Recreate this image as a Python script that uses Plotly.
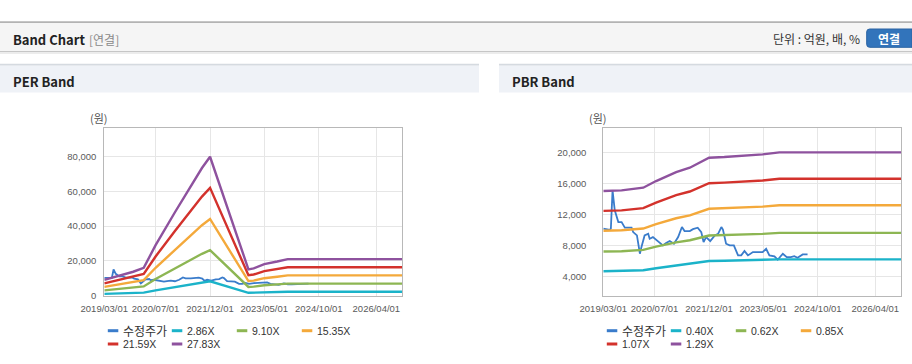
import plotly.graph_objects as go

# ---------------- data ----------------
x_tick_vals = ["2019-03-01", "2020-07-01", "2021-12-01", "2023-05-01", "2024-10-01", "2026-04-01"]
x_tick_text = ["2019/03/01", "2020/07/01", "2021/12/01", "2023/05/01", "2024/10/01", "2026/04/01"]
x_range = ["2019-03-01", "2026-12-01"]

per_y_ticks = [0, 20000, 40000, 60000, 80000]
pbr_y_ticks = [4000, 8000, 12000, 16000, 20000]

price_name = "수정주가"
price_dates = ["2019-03-01", "2019-04-15", "2019-05-01", "2019-05-12", "2019-05-28", "2019-06-18",
               "2019-07-22", "2019-08-22", "2019-09-22", "2019-11-25", "2019-12-10", "2020-01-15",
               "2020-02-12", "2020-02-27", "2020-03-28", "2020-05-01", "2020-05-15", "2020-06-15",
               "2020-08-01", "2020-09-18", "2020-10-18", "2020-11-22", "2021-01-01", "2021-02-10",
               "2021-03-18", "2021-04-12", "2021-06-01", "2021-07-01", "2021-08-15", "2021-09-18",
               "2021-10-10", "2021-11-03", "2021-12-12", "2022-01-25", "2022-02-25", "2022-03-28",
               "2022-04-12", "2022-05-12", "2022-06-15", "2022-07-25", "2022-09-03", "2022-10-03",
               "2022-11-03", "2022-12-06", "2023-01-22", "2023-04-25", "2023-05-28", "2023-06-28",
               "2023-08-15", "2023-09-15", "2023-11-03", "2023-12-10", "2024-01-18", "2024-02-20",
               "2024-03-22", "2024-05-10", "2024-06-25"]
price_values = [10150, 10100, 10000, 10150, 15100, 12520,
                11010, 11000, 10280, 10280, 9720, 9290,
                6930, 7790, 9290, 9500, 8860, 9070,
                8560, 8000, 8300, 8560, 8220, 9070,
                10370, 9850, 9850, 10100, 10280, 9720,
                8430, 9070, 8560, 9290, 9500, 10370,
                10030, 8220, 8000, 8000, 6710, 6710,
                7270, 6710, 7140, 7140, 7570, 6710,
                6580, 6150, 6930, 6490, 6490, 6620,
                6400, 6840, 6840]

per_dates = ["2019-03-01", "2019-08-01", "2019-12-01", "2020-03-10", "2020-07-01", "2021-01-01",
             "2021-09-15", "2021-12-01", "2022-12-01", "2023-01-20", "2023-05-01", "2023-09-01",
             "2023-12-10", "2026-12-01"]
per_band_names = ["2.86X", "9.10X", "15.35X", "21.59X", "27.83X"]
per_2_86 = [920, 1210, 1410, 1640, 2980, 4930, 7550, 8220, 1550, 1600, 1860, 2010, 2160, 2160]
per_9_10 = [2940, 3860, 4480, 5230, 9480, 15700, 24030, 26160, 4940, 5100, 5920, 6410, 6870, 6870]
per_15_35 = [4960, 6510, 7560, 8830, 16000, 26480, 40540, 44130, 8330, 8600, 9980, 10810, 11580, 11580]
per_21_59 = [6980, 9150, 10630, 12410, 22500, 37240, 57020, 62060, 11710, 12100, 14040, 15210, 16290, 16290]
per_27_83 = [9000, 11800, 13700, 16000, 29000, 48000, 73500, 80000, 15100, 15600, 18100, 19600, 21000, 21000]

pbr_dates = ["2019-03-01", "2019-08-22", "2020-03-15", "2020-07-15", "2021-01-22", "2021-06-01",
             "2021-12-01", "2022-04-25", "2023-04-25", "2023-10-01", "2026-12-01"]
pbr_band_names = ["0.40X", "0.62X", "0.85X", "1.07X", "1.29X"]
pbr_0_40 = [4660, 4680, 4790, 5060, 5410, 5590, 5990, 6020, 6120, 6200, 6200]
pbr_0_62 = [7220, 7250, 7420, 7840, 8390, 8660, 9280, 9320, 9490, 9610, 9610]
pbr_0_85 = [9890, 9950, 10170, 10740, 11500, 11870, 12720, 12780, 13000, 13180, 13180]
pbr_1_07 = [12450, 12520, 12810, 13520, 14480, 14950, 16020, 16090, 16370, 16590, 16590]
pbr_1_29 = [15010, 15100, 15440, 16300, 17460, 18020, 19310, 19400, 19740, 20000, 20000]

price_color = "#3A7CCB"
band_colors = ["#1BB3C9", "#8DB653", "#F4A93B", "#D3322C", "#8E529E"]

# ---------------- figure ----------------
W, H = 912, 364


def PX(x):
    return x / W


def PY(y):
    return 1 - y / H


fig = go.Figure()

fig.add_trace(go.Scatter(x=price_dates, y=price_values, name=price_name, mode="lines",
                         line=dict(color=price_color, width=1.8), xaxis="x", yaxis="y"))
for nm, vals, col in zip(per_band_names, [per_2_86, per_9_10, per_15_35, per_21_59, per_27_83], band_colors):
    fig.add_trace(go.Scatter(x=per_dates, y=vals, name=nm, mode="lines",
                             line=dict(color=col, width=2.4), xaxis="x", yaxis="y"))

fig.add_trace(go.Scatter(x=price_dates, y=price_values, name=price_name, mode="lines",
                         line=dict(color=price_color, width=1.8), xaxis="x2", yaxis="y2"))
for nm, vals, col in zip(pbr_band_names, [pbr_0_40, pbr_0_62, pbr_0_85, pbr_1_07, pbr_1_29], band_colors):
    fig.add_trace(go.Scatter(x=pbr_dates, y=vals, name=nm, mode="lines",
                             line=dict(color=col, width=2.4), xaxis="x2", yaxis="y2"))

tick_font = dict(family="Liberation Sans, Arial, sans-serif", size=9.5, color="#5a5a5a")
axis_common = dict(showgrid=True, gridcolor="#e6e6e6", gridwidth=1, showline=True,
                   linecolor="#b8b8b8", linewidth=1, mirror=True, ticks="",
                   zeroline=False, fixedrange=True, tickfont=tick_font, automargin=False)

per_left, per_right = 104.3, 402.0
pbr_left, pbr_right = 603.3, 901.0
plot_top, plot_bottom = 128.3, 295.5

fig.update_layout(
    width=W, height=H, autosize=False,
    margin=dict(l=0, r=0, t=0, b=0, pad=0, autoexpand=False),
    paper_bgcolor="#ffffff", plot_bgcolor="#ffffff", showlegend=False,
    xaxis=dict(domain=[PX(per_left), PX(per_right)], type="date", range=x_range,
               tickvals=x_tick_vals, ticktext=x_tick_text, anchor="y", tickangle=0,
               ticklabelstandoff=4, **axis_common),
    yaxis=dict(domain=[PY(plot_bottom), PY(plot_top)], range=[0, 96400],
               tickvals=per_y_ticks, tickformat=",d", anchor="x",
               ticklabelstandoff=5, **axis_common),
    xaxis2=dict(domain=[PX(pbr_left), PX(pbr_right)], type="date", range=x_range,
                tickvals=x_tick_vals, ticktext=x_tick_text, anchor="y2", tickangle=0,
                ticklabelstandoff=4, **axis_common),
    yaxis2=dict(domain=[PY(plot_bottom), PY(plot_top)], range=[1540, 23100],
                tickvals=pbr_y_ticks, tickformat=",d", anchor="x2",
                ticklabelstandoff=14, **axis_common),
)

shapes = []
annotations = []
kr = "Noto Sans CJK KR, sans-serif"

# top line and header bar
shapes.append(dict(type="rect", xref="paper", yref="paper", x0=0, x1=1, y0=PY(23), y1=PY(21.3),
                   fillcolor="#b3b3b3", line=dict(width=0)))
shapes.append(dict(type="rect", xref="paper", yref="paper", x0=0, x1=1, y0=PY(51), y1=PY(23),
                   fillcolor="#f5f5f5", line=dict(width=0)))
shapes.append(dict(type="rect", xref="paper", yref="paper", x0=0, x1=1, y0=PY(52), y1=PY(51),
                   fillcolor="#c6c6c6", line=dict(width=0)))
shapes.append(dict(type="rect", xref="paper", yref="paper", x0=0, x1=1, y0=PY(54), y1=PY(52),
                   fillcolor="#ececec", line=dict(width=0)))

# panel headers
for x0, x1 in [(0, 479), (499, 912)]:
    shapes.append(dict(type="rect", xref="paper", yref="paper", x0=PX(x0), x1=PX(x1),
                       y0=PY(92.5), y1=PY(65.5), fillcolor="#eff2f7", line=dict(width=0)))
    shapes.append(dict(type="rect", xref="paper", yref="paper", x0=PX(x0), x1=PX(x1),
                       y0=PY(65.5), y1=PY(63.8), fillcolor="#d5dae0", line=dict(width=0)))

# blue button (rounded corners)
bx0, bx1, by0, by1, r = 866.7, 912, 29, 47.3, 3


def P(x, y):
    return f"{PX(x)},{PY(y)}"


btn_path = ("M " + P(bx0 + r, by0) + " L " + P(bx1, by0) +
            " L " + P(bx1, by1) +
            " L " + P(bx0 + r, by1) + " Q " + P(bx0, by1) + " " + P(bx0, by1 - r) +
            " L " + P(bx0, by0 + r) + " Q " + P(bx0, by0) + " " + P(bx0 + r, by0) + " Z")
shapes.append(dict(type="path", xref="paper", yref="paper", path=btn_path,
                   fillcolor="#3274bb", line=dict(color="#2a63a3", width=1)))


def text(x, y, s, size, color, bold=False, family=kr, xanchor="left"):
    annotations.append(dict(xref="paper", yref="paper", x=PX(x), y=PY(y),
                            text=("<b>%s</b>" % s) if bold else s,
                            showarrow=False, xanchor=xanchor, yanchor="middle",
                            font=dict(family=family, size=size, color=color)))


text(10.5, 39.3, "Band Chart", 13, "#222222", bold=True)
text(87, 39.3, "[연결]", 12, "#8a8a8a")
text(862, 38.3, "단위 : 억원, 배, %", 12, "#333333", xanchor="right")
text(889, 38.5, "연결", 12, "#ffffff", bold=True, xanchor="center")
text(10.5, 81, "PER Band", 13, "#222222", bold=True)
text(509.5, 81, "PBR Band", 13, "#222222", bold=True)
text(99, 118, "(원)", 11, "#555555", xanchor="center")
text(598, 118, "(원)", 11, "#555555", xanchor="center")

# legends
legend_offsets = [17.5, 81.5, 146.5, 211.5]
rows_y = [330.7, 344.0]
for left, band_names in [(per_left, per_band_names), (pbr_left, pbr_band_names)]:
    items = [(price_name, price_color)] + list(zip(band_names, band_colors))
    for i, (nm, col) in enumerate(items):
        row, colidx = divmod(i, 4)
        tx = left + legend_offsets[colidx]
        ty = rows_y[row]
        shapes.append(dict(type="line", xref="paper", yref="paper", x0=PX(tx - 14), x1=PX(tx - 3.5),
                           y0=PY(ty), y1=PY(ty), line=dict(color=col, width=3)))
        if nm == price_name:
            text(tx - 1, ty, nm, 12, "#333333")
        else:
            text(tx - 1, ty, nm, 10.5, "#333333", family="Liberation Sans, Arial, sans-serif")

fig.update_layout(shapes=shapes, annotations=annotations)

fig.write_html("out.html", config={"displayModeBar": False},
               post_script="document.body.style.margin='0';document.body.style.overflow='hidden';")
